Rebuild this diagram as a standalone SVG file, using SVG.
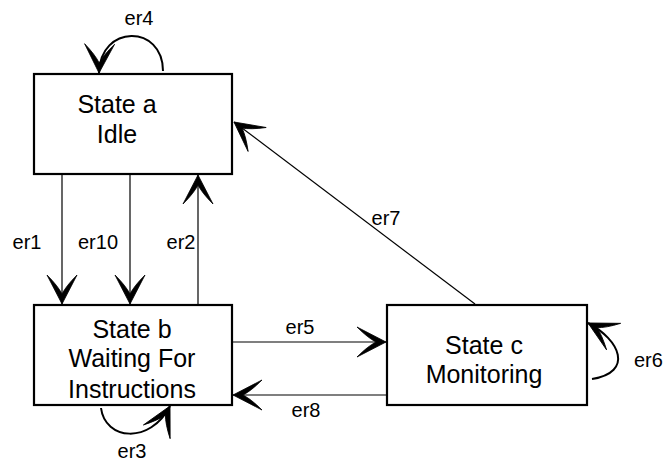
<svg xmlns="http://www.w3.org/2000/svg" width="664" height="464" viewBox="0 0 664 464">
<style>
.box{fill:#fff;stroke:#000;stroke-width:2.2}
.t{font-family:"Liberation Sans",Arial,sans-serif;font-size:25px;fill:#000;text-anchor:middle}
.l{font-family:"Liberation Sans",Arial,sans-serif;font-size:20px;fill:#000;text-anchor:middle}
.c{fill:none;stroke:#000;stroke-width:1.2;marker-end:url(#ah)}
.lp{fill:none;stroke:#000;stroke-width:2;marker-end:url(#ah)}
</style>
<defs>
<marker id="ah" markerUnits="userSpaceOnUse" viewBox="-30 -16 32 32" refX="0" refY="0" markerWidth="32" markerHeight="32" orient="auto" overflow="visible">
<path d="M0,0 L-29,-15 Q-18,-4 -10,0 Q-18,4 -29,15 Z" fill="#000" stroke="#000" stroke-width="0.8" stroke-linejoin="miter"/>
</marker>
</defs>
<rect width="664" height="464" fill="#fff"/>
<g id="state-a">
<rect class="box" x="34" y="74" width="198" height="100"/>
<text class="t" x="117" y="113">State a</text>
<text class="t" x="117" y="143">Idle</text>
</g>
<g id="state-b">
<rect class="box" x="34" y="305" width="198" height="100"/>
<text class="t" x="132" y="338">State b</text>
<text class="t" x="132" y="367">Waiting For</text>
<text class="t" x="132" y="398">Instructions</text>
</g>
<g id="state-c">
<rect class="box" x="387" y="305" width="200" height="100"/>
<text class="t" x="484" y="354">State c</text>
<text class="t" x="484" y="383">Monitoring</text>
</g>
<g id="connectors">
<path class="c" d="M62,175 L62,304"/>
<path class="c" d="M130,175 L130,304"/>
<path class="c" d="M198,304 L198,175"/>
<path class="c" d="M233,342 L386,342"/>
<path class="c" d="M386,395 L233,395"/>
<path class="c" d="M475,304 L234,122"/>
<path class="lp" d="M163,71 C163,24 100,24 99,73"/>
<path class="lp" d="M101,408 C105,440 150,445 170,406"/>
<path class="lp" d="M592,379 C634,372 620,340 588,323"/>
<text class="l" x="139" y="25">er4</text>
<text class="l" x="27" y="249">er1</text>
<text class="l" x="98" y="249">er10</text>
<text class="l" x="181" y="249">er2</text>
<text class="l" x="300" y="334">er5</text>
<text class="l" x="306" y="417">er8</text>
<text class="l" x="386" y="225">er7</text>
<text class="l" x="634" y="367" style="text-anchor:start">er6</text>
<text class="l" x="132" y="458">er3</text>
</g>
</svg>
